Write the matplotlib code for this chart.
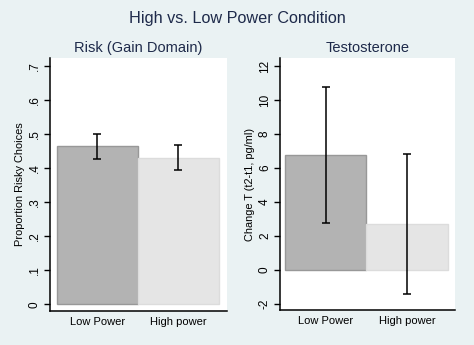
import matplotlib
matplotlib.use("Agg")
import matplotlib.pyplot as plt

# data
groups = ["Low Power", "High power"]
risk_mean = [0.464, 0.429]
risk_lo = [0.428, 0.393]
risk_hi = [0.500, 0.467]
risk_ticks = [0, 0.1, 0.2, 0.3, 0.4, 0.5, 0.6, 0.7]
risk_ticklabels = ["0", ".1", ".2", ".3", ".4", ".5", ".6", ".7"]

testo_mean = [6.75, 2.7]
testo_lo = [2.75, -1.43]
testo_hi = [10.74, 6.8]
testo_ticks = [-2, 0, 2, 4, 6, 8, 10, 12]

bg = "#EAF2F3"
navy = "#1E2A4A"
bar_fill = ["#B3B3B3", "#E5E5E5"]
bar_edge = ["#989898", "#DCDCDC"]

plt.rcParams["font.family"] = ["Liberation Sans", "DejaVu Sans"]

W, H = 474, 345
fig = plt.figure(figsize=(W / 100, H / 100), dpi=100, facecolor=bg)


def px_axes(x0, y0, x1, y1):
    return fig.add_axes([x0 / W, 1 - y1 / H, (x1 - x0) / W, (y1 - y0) / H])


def panel(ax, means, lo, hi, title, ylabel, ticks, ticklabels, ylim, xlim):
    xs = [1, 2]
    ax.bar(xs, means, width=1.0, color=bar_fill, edgecolor=bar_edge, linewidth=1)
    err = [[m - l for m, l in zip(means, lo)], [h - m for m, h in zip(means, hi)]]
    ax.errorbar(xs, means, yerr=err, fmt="none", ecolor="black", elinewidth=1.1,
                capsize=2.6, capthick=1.1)
    ax.set_xlim(*xlim)
    ax.set_ylim(*ylim)
    ax.set_yticks(ticks)
    ax.set_yticklabels(ticklabels, rotation=90, va="center", fontsize=8.5)
    ax.set_xticks(xs)
    ax.set_xticklabels(groups, fontsize=8)
    ax.tick_params(axis="x", length=0, pad=4)
    ax.tick_params(axis="y", length=4.5, width=1, pad=2)
    ax.set_facecolor("white")
    for s in ["top", "right"]:
        ax.spines[s].set_visible(False)
    for s in ["left", "bottom"]:
        ax.spines[s].set_linewidth(1.1)
    ax.set_ylabel(ylabel, fontsize=7.9, labelpad=3)
    ax.set_title(title, fontsize=10.5, color=navy, pad=4)


ax1 = px_axes(50, 58, 227, 311)
panel(ax1, risk_mean, risk_lo, risk_hi, "Risk (Gain Domain)",
      "Proportion Risky Choices", risk_ticks, risk_ticklabels,
      (-0.02, 0.7235), (0.414, 2.6))

ax2 = px_axes(280, 58, 455, 310)
panel(ax2, testo_mean, testo_lo, testo_hi, "Testosterone",
      "Change T (t2-t1, pg/ml)", testo_ticks, [str(t) for t in testo_ticks],
      (-2.35, 12.47), (0.435, 2.59))

fig.text(237 / W, 1 - 18 / H, "High vs. Low Power Condition", ha="center",
         va="center", fontsize=11.7, color=navy)

fig.savefig("out.png", dpi=100, facecolor=bg)
